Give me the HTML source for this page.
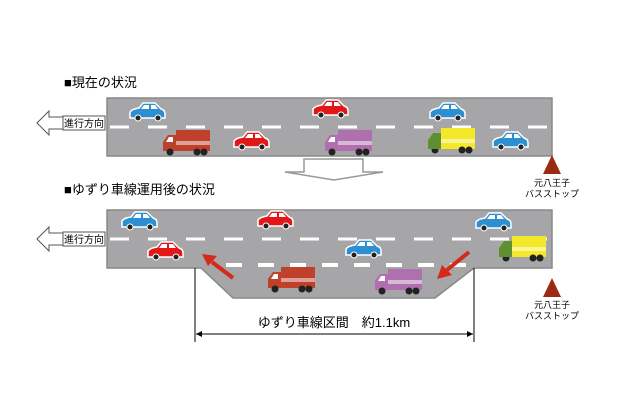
<!DOCTYPE html>
<html><head><meta charset="utf-8"><style>
body{margin:0;background:#fff;}
svg{display:block;font-family:"Liberation Sans","Noto Sans CJK JP",sans-serif;}
</style></head><body>
<svg width="630" height="420" viewBox="0 0 630 420" xmlns="http://www.w3.org/2000/svg">
<defs>
<g id="car">
<path d="M-17,4 L-17,-2 Q-15,-5 -8,-6 L-4,-11 L8,-11 L14,-5 Q18,-4 18,0 L18,4 Z" stroke="#fff" stroke-width="1.5"/>
<path d="M-3,-9 L2,-9 L2,-5 L-6,-5 Z M4,-9 L8,-9 L11,-5 L4,-5 Z" fill="#fff"/>
<circle cx="-9" cy="4" r="3" fill="#222" stroke="#fff"/><circle cx="11" cy="4" r="3" fill="#222" stroke="#fff"/>
</g>
<g id="truck">
<rect x="-9" y="-18" width="34" height="21"/>
<rect x="-9" y="-7" width="34" height="4" fill="#fff" fill-opacity="0.5"/>
<path d="M-22,3 L-22,-6 L-17,-13 L-9,-13 L-9,3 Z"/>
<path d="M-19,-6 L-16,-11 L-12,-11 L-12,-6 Z" fill="#fff"/>
<circle cx="-15" cy="4" r="3.5" fill="#222"/><circle cx="12" cy="4" r="3.5" fill="#222"/><circle cx="19" cy="4" r="3.5" fill="#222"/>
</g>
<g id="arrowL">
<path d="M0,0 L12,-12 L12,-6 L26,-6 L26,6 L12,6 L12,12 Z" fill="#fff" stroke="#555" stroke-width="1"/>
<rect x="26" y="-7" width="42" height="14" fill="#fff" stroke="#555" stroke-width="1"/>
</g>
</defs>

<text x="64" y="87" font-size="13">■現在の状況</text>
<text x="64" y="194" font-size="13">■ゆずり車線運用後の状況</text>

<!-- road 1 -->
<rect x="107" y="98" width="445" height="58" fill="#a6a6a8" stroke="#888" stroke-width="1.5"/>
<line x1="110" y1="127" x2="550" y2="127" stroke="#fff" stroke-width="3" stroke-dasharray="19,19"/>
<use href="#arrowL" x="37" y="123"/>
<text x="64" y="127" font-size="10">進行方向</text>

<use href="#car" x="147" y="114" fill="#2b8fd1"/>
<use href="#car" x="330" y="111" fill="#e21818"/>
<use href="#car" x="447" y="114" fill="#2b8fd1"/>
<use href="#car" x="251" y="143" fill="#e21818"/>
<use href="#car" x="510" y="143" fill="#2b8fd1"/>
<use href="#truck" x="185" y="148" fill="#c0412b"/>
<use href="#truck" x="347" y="148" fill="#b070b0"/>
<use href="#truck" x="450" y="146" fill="#f4e82a"/>
<path d="M428,149 L428,140 L433,133 L441,133 L441,149 Z" fill="#5f8f30"/>

<!-- down arrow -->
<path d="M304,159 L363,159 L363,172 L383,172 L334,180 L285,172 L304,172 Z" fill="#fff" stroke="#999" stroke-width="1.5"/>

<!-- road 2 -->
<path d="M107,210 L552,210 L552,268 L474,268 L435,298 L233,298 L201,268 L107,268 Z" fill="#a6a6a8" stroke="#888" stroke-width="1.5"/>
<line x1="110" y1="239" x2="550" y2="239" stroke="#fff" stroke-width="3" stroke-dasharray="19,19"/>
<line x1="226" y1="265" x2="472" y2="265" stroke="#fff" stroke-width="4" stroke-dasharray="16,16"/>
<use href="#arrowL" x="37" y="239"/>
<text x="64" y="243" font-size="10">進行方向</text>

<use href="#car" x="139" y="223" fill="#2b8fd1"/>
<use href="#car" x="275" y="222" fill="#e21818"/>
<use href="#car" x="493" y="224" fill="#2b8fd1"/>
<use href="#car" x="165" y="253" fill="#e21818"/>
<use href="#car" x="363" y="251" fill="#2b8fd1"/>
<use href="#truck" x="290" y="285" fill="#c0412b"/>
<use href="#truck" x="397" y="287" fill="#b070b0"/>
<use href="#truck" x="521" y="254" fill="#f4e82a"/>
<path d="M499,257 L499,248 L504,241 L512,241 L512,257 Z" fill="#5f8f30"/>

<!-- red arrows -->
<g stroke="#d42a1a" stroke-width="4" fill="#d42a1a">
<line x1="233" y1="278" x2="212" y2="262"/>
<line x1="469" y1="252" x2="447" y2="270"/>
</g>
<path d="M202,254 L217,256 L208,266 Z" fill="#d42a1a"/>
<path d="M437,279 L442,265 L452,275 Z" fill="#d42a1a"/>

<!-- bus stops -->
<path d="M552,155 L561,174 L543,174 Z" fill="#9b2a12"/>
<text x="552" y="186" font-size="9" text-anchor="middle">元八王子</text>
<text x="552" y="197" font-size="9" text-anchor="middle">バスストップ</text>
<path d="M552,278 L561,297 L543,297 Z" fill="#9b2a12"/>
<text x="552" y="308" font-size="9" text-anchor="middle">元八王子</text>
<text x="552" y="319" font-size="9" text-anchor="middle">バスストップ</text>

<!-- measurement -->
<line x1="195" y1="268" x2="195" y2="342" stroke="#000"/>
<line x1="474" y1="268" x2="474" y2="342" stroke="#000"/>
<line x1="196" y1="334" x2="473" y2="334" stroke="#000"/>
<path d="M196,334 L202,331 L202,337 Z M473,334 L467,331 L467,337 Z" fill="#000"/>
<text x="334" y="327" font-size="13" text-anchor="middle">ゆずり車線区間　約1.1km</text>
</svg>
</body></html>
